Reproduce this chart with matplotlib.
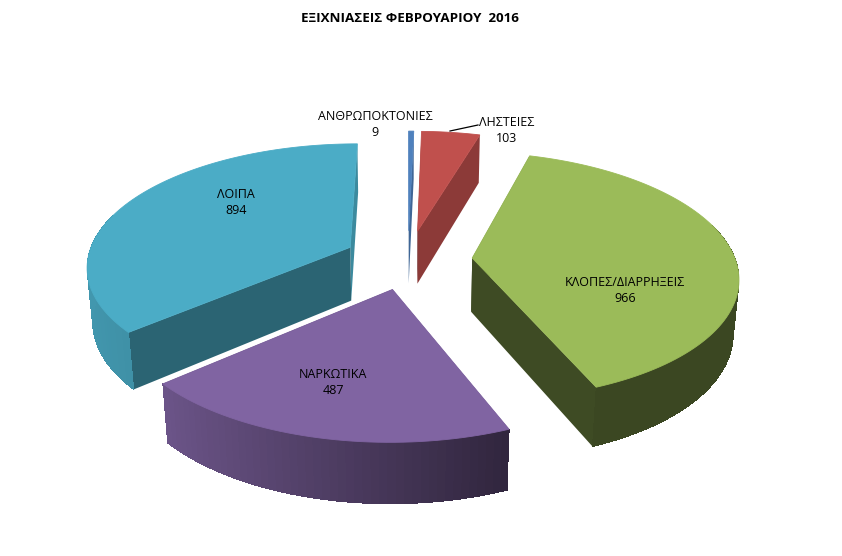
import numpy as np
import matplotlib
matplotlib.use("Agg")
import matplotlib.pyplot as plt
from matplotlib.patches import Polygon

categories = ["ΑΝΘΡΩΠΟΚΤΟΝΙΕΣ", "ΛΗΣΤΕΙΕΣ", "ΚΛΟΠΕΣ/ΔΙΑΡΡΗΞΕΙΣ", "ΝΑΡΚΩΤΙΚΑ", "ΛΟΙΠΑ"]
values = [9, 103, 966, 487, 894]
colors = ["#4F81BD", "#C0504D", "#9BBB59", "#8064A2", "#4BACC6"]
title = "ΕΞΙΧΝΙΑΣΕΙΣ ΦΕΒΡΟΥΑΡΙΟΥ  2016"

W, H = 842, 556
plt.rcParams['font.family'] = ['Open Sans', 'DejaVu Sans']
fig = plt.figure(figsize=(W / 100, H / 100), dpi=100)
ax = fig.add_axes([0, 0, 1, 1])
ax.set_xlim(0, W)
ax.set_ylim(H, 0)
ax.axis("off")

# camera
CX, CY = 408, 259.5
SCALE = 263
ELEV_S = 0.462
ELEV_C = np.sqrt(1 - ELEV_S ** 2)
DIST = 6.2
EXPLODE = 0.245
THICK = 0.235


def project(x, y, z):
    depth = DIST + y * ELEV_C - z * ELEV_S
    k = SCALE * DIST / depth
    return CX + k * x, CY - k * (y * ELEV_S + z * ELEV_C)


def shade(hex_color, f):
    rgb = np.array(matplotlib.colors.to_rgb(hex_color))
    return tuple(np.clip(rgb * f, 0, 1))


def wall_factor(theta):
    return np.interp(np.sin(theta), [-1, -0.75, 0.37, 1], [0.88, 0.84, 0.38, 0.38])


def radial_factor(normal_deg):
    return np.interp(normal_deg % 360, [90, 106, 139, 248], [0.80, 0.73, 0.58, 0.40])


total = sum(values)
angles = np.cumsum([0] + values) / total * 2 * np.pi
order = [0, 1, 4, 2, 3]

for i in order:
    a0, a1 = angles[i], angles[i + 1]
    mid = (a0 + a1) / 2
    ox, oy = EXPLODE * np.sin(mid), EXPLODE * np.cos(mid)
    col = colors[i]
    n = max(2, int((a1 - a0) / np.radians(1.5)))
    th = np.linspace(a0, a1, n + 1)

    # radial faces, nearest last
    radial = []
    for t, turn in ((a0, -90), (a1, 90)):
        xr, yr = ox + np.sin(t), oy + np.cos(t)
        pts = [project(ox, oy, 0), project(xr, yr, 0),
               project(xr, yr, -THICK), project(ox, oy, -THICK)]
        radial.append(((oy + yr) / 2, pts, shade(col, radial_factor(np.degrees(t) + turn))))
    radial.sort(key=lambda f: -f[0])
    for _, pts, c in radial:
        ax.add_patch(Polygon(pts, closed=True, facecolor=c, edgecolor="none"))

    # outer rim: a smooth base, then front-facing strips shaded one by one
    front = [t for t in th if np.cos(t) <= 0.3]
    if len(front) > 1:
        upper = [project(ox + np.sin(t), oy + np.cos(t), 0) for t in front]
        lower = [project(ox + np.sin(t), oy + np.cos(t), -THICK) for t in front[::-1]]
        base = shade(col, wall_factor(front[len(front) // 2]))
        ax.add_patch(Polygon(upper + lower, closed=True, facecolor=base, edgecolor="none"))
        for t0, t1 in zip(front[:-1], front[1:]):
            x0, y0 = ox + np.sin(t0), oy + np.cos(t0)
            x1, y1 = ox + np.sin(t1), oy + np.cos(t1)
            pts = [project(x0, y0, 0), project(x1, y1, 0),
                   project(x1, y1, -THICK), project(x0, y0, -THICK)]
            ax.add_patch(Polygon(pts, closed=True, edgecolor="none", antialiased=False,
                                 facecolor=shade(col, wall_factor((t0 + t1) / 2))))

    top = [project(ox, oy, 0)] + [project(ox + np.sin(t), oy + np.cos(t), 0) for t in th]
    ax.add_patch(Polygon(top, closed=True, facecolor=col, edgecolor=col, linewidth=0.6))

FS = 9.0
label_pos = [(375, 125), (507, 130), (625, 291), (333, 382), (236, 202)]
for name, v, (lx, ly) in zip(categories, values, label_pos):
    ax.text(lx, ly, f"{name}\n{v}", ha="center", va="center", fontsize=FS,
            color="black", linespacing=1.3)

ax.plot([450, 478], [131, 125], color="black", lw=0.9)
ax.text(410, 18, title, ha="center", va="center", fontsize=9.6,
        fontweight="bold", color="black")

fig.savefig("out.png", dpi=100, facecolor="white")
